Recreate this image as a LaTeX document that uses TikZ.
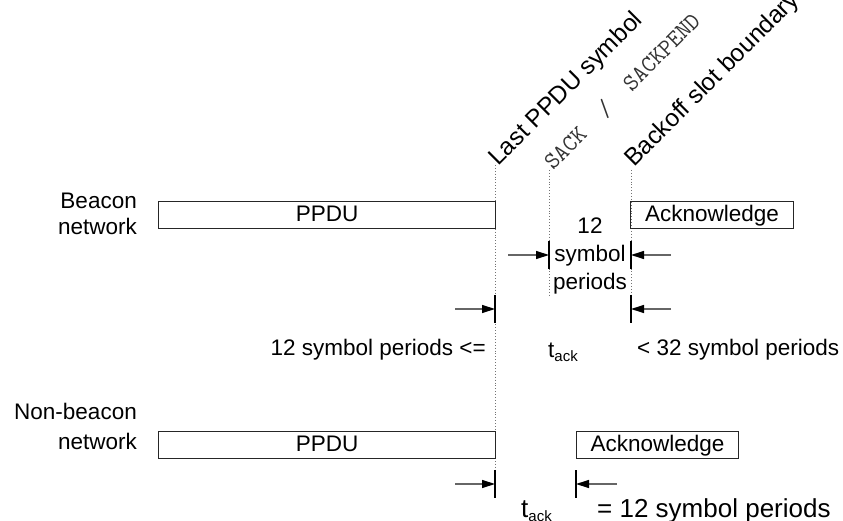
\documentclass[tikz,border=0pt]{standalone}
\usepackage{fontspec}
\setmainfont{Liberation Sans}
\usetikzlibrary{arrows.meta}

\begin{document}
\begin{tikzpicture}[
  x=1pt,
  y=-1pt,
  every node/.style={
    font=\fontsize{22.5}{26}\selectfont,
    inner sep=0pt
  },
  framebox/.style={
    draw=black!85,
    line width=1.2pt,
    minimum height=27pt,
    text height=16pt,
    text depth=4pt,
    anchor=north west
  },
  guideline/.style={
    draw=black!55,
    line width=0.9pt,
    dotted
  },
  barline/.style={
    draw=black,
    line width=1.2pt
  },
  dimarrow/.style={
    draw=black!60,
    line width=1.3pt,
    -{Triangle[length=13pt,width=8pt,color=black]}
  },
  slanted/.style={
    rotate=45,
    anchor=base west,
    font=\fontsize{24.5}{28}\selectfont
  }
]

\useasboundingbox (0,0) rectangle (843,521);

\newcommand{\dimmark}[4]{%
  \coordinate (#1) at (#2,#3);
  \coordinate (#1tail) at (#4,#3);
  \draw[barline] ([yshift=14pt]#1) -- ([yshift=-14pt]#1);
  \draw[dimarrow] (#1tail) -- (#1);
}

% time marks
\coordinate (lastTop) at (495,165);
\coordinate (lastEnd) at (495,470);
\coordinate (sackTop) at (549,170);
\coordinate (sackEnd) at (549,297);
\coordinate (backTop) at (631,170);
\coordinate (backEnd) at (631,322);
\draw[guideline] (lastTop) -- (lastEnd);
\draw[guideline] (sackTop) -- (sackEnd);
\draw[guideline] (backTop) -- (backEnd);

\node[slanted] (lastLbl) at (498,167) {Last PPDU symbol};
\node[slanted, font=\ttfamily\fontsize{24}{28}\selectfont, text=black!80] (sackLbl) at (553,171) {SACK\ \ /\ \ SACKPEND};
\node[slanted] (backLbl) at (634,168) {Backoff slot boundary};

% beacon network
\node[anchor=north east, align=right] (beaconLbl) at (137,193) {Beacon\\network};
\node[framebox, minimum width=337pt] (ppduA) at (158,201) {PPDU};
\node[framebox, minimum width=163pt] (ackA) at (630,201) {Acknowledge};

\dimmark{sackIn}{549}{255}{508}
\dimmark{backIn}{631}{255}{671}
\dimmark{lastMin}{495}{309}{455}
\dimmark{backMax}{631}{309}{671}

\node[anchor=north, align=center, font=\fontsize{22.5}{28}\selectfont] (twelveLbl) at (590,218) {12\\symbol\\periods};
\node[anchor=base east] (minLbl) at (486,355) {12 symbol periods <=};
\node[anchor=base west] (tackA) at (548,357) {t\raisebox{-4pt}{\fontsize{15}{15}\selectfont ack}};
\node[anchor=base west] (maxLbl) at (637,355) {< 32 symbol periods};

% non-beacon network
\node[anchor=north east, align=right, font=\fontsize{22.5}{30}\selectfont] (nonbeaconLbl) at (137,403) {Non-beacon\\network};
\node[framebox, minimum width=337pt] (ppduB) at (158,431) {PPDU};
\node[framebox, minimum width=162pt] (ackB) at (576,431) {Acknowledge};

\dimmark{lastNB}{495}{484}{455}
\dimmark{ackNB}{576}{484}{617}

\node[anchor=base west, font=\fontsize{26}{30}\selectfont] (tackB) at (521,517) {t\raisebox{-4pt}{\fontsize{15}{15}\selectfont ack}};
\node[anchor=base west, font=\fontsize{26}{30}\selectfont] (eqLbl) at (597,517) {= 12 symbol periods};

\end{tikzpicture}
\end{document}
